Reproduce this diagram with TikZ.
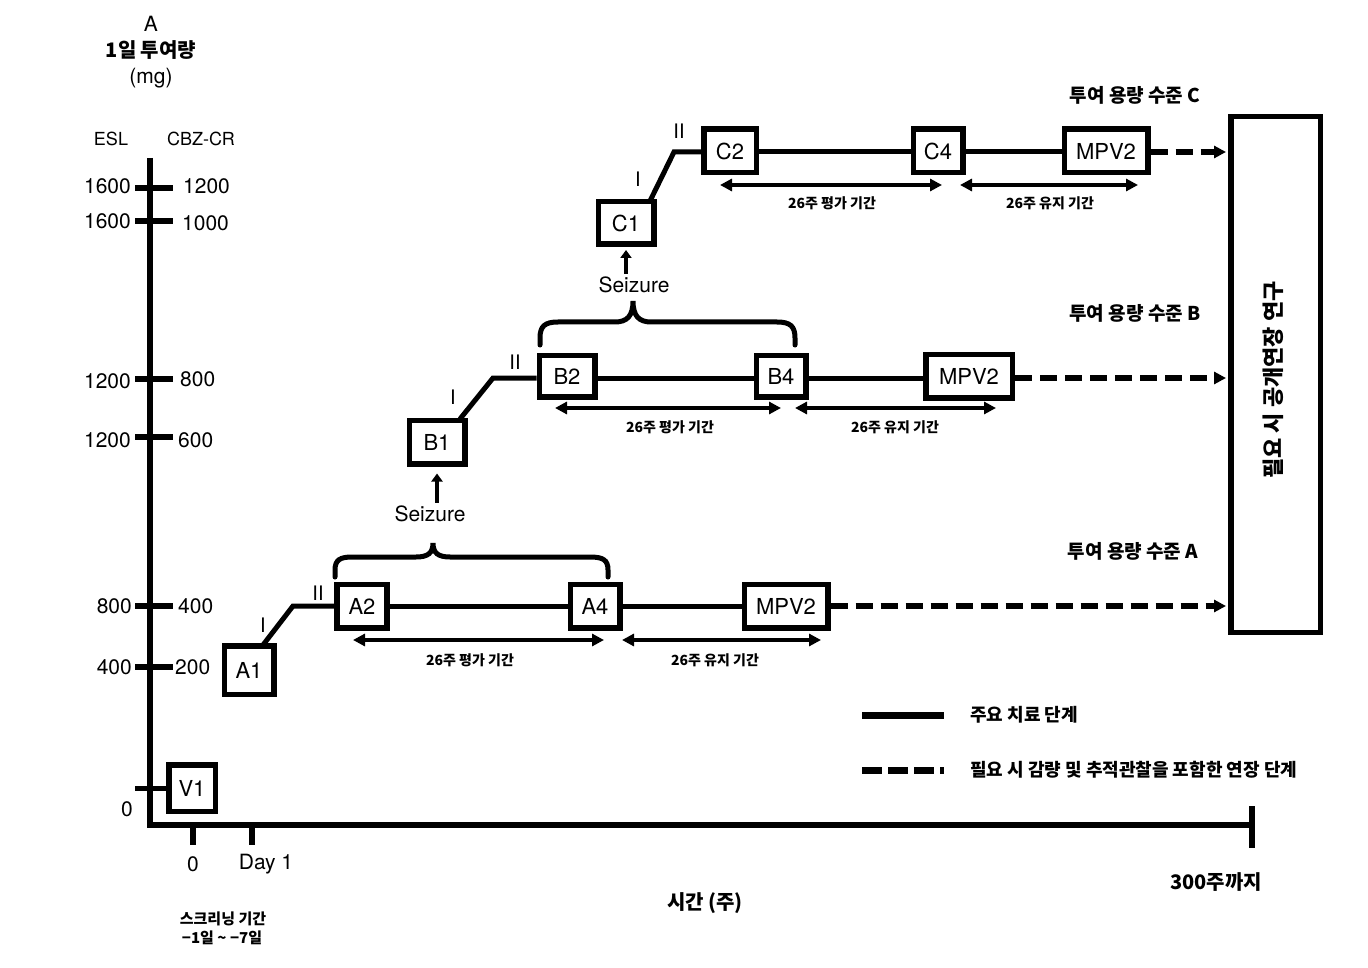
\documentclass[tikz,border=0pt]{standalone}
\usepackage{fontspec}
\setmainfont{TeX Gyre Heros}
\newfontfamily\kr{Noto Sans CJK KR}
\usetikzlibrary{arrows.meta}
\begin{document}
\begin{tikzpicture}[x=1pt,y=-1pt,line join=miter,
  box/.style={draw,line width=5.5pt,fill=white,inner sep=0pt,font=\fontsize{22}{26}\selectfont},
  sq/.style={box,minimum width=50pt,minimum height=43.5pt},
  mpv/.style={box,minimum width=85pt,minimum height=43.5pt},
  main/.style={line width=5pt},
  axis/.style={line width=6pt},
  ext/.style={line width=5.5pt,dash pattern=on 17pt off 8pt,-{Triangle[length=12pt,width=12pt]},shorten >=2pt},
  dur/.style={line width=3.5pt,{Triangle[length=12pt,width=12pt]}-{Triangle[length=12pt,width=12pt]}},
  up/.style={line width=3.5pt,-{Triangle[length=8pt,width=11pt]}},
  brace/.style={line width=5pt,line cap=round},
  lbl/.style={inner sep=0pt,font=\fontsize{21}{24}\selectfont},
  small/.style={inner sep=0pt,font=\kr\bfseries\fontsize{14}{16}\selectfont},
  klbl/.style={inner sep=0pt,font=\kr\bfseries\fontsize{19}{22}\selectfont},
  roman/.style={inner sep=0pt,font=\fontsize{20}{22}\selectfont}]
\useasboundingbox (0,0) rectangle (1368,968);

% ---------- axes ----------
\coordinate (ytop) at (150,158);
\coordinate (orig) at (150,825);
\coordinate (xend) at (1252,825);
\draw[axis] (ytop) -- (orig) -- (xend);
\draw[axis] (1252,806) -- (1252,848);
\draw[axis] (193,825) -- (193,845);
\draw[axis] (252,825) -- (252,845);
\foreach \yy in {188,221,379,437,606,667}{\draw[axis] (135,\yy) -- (173,\yy);}

% axis titles
\node[lbl] (tA) at (151,24) {A};
\node[klbl,font=\kr\bfseries\fontsize{20}{22}\selectfont] (tdose) at (151,50) {1일 투여량};
\node[lbl] (tmg) at (151,78) {(mg)};
\node[lbl,font=\fontsize{18}{20}\selectfont] (tesl) at (111,139) {ESL};
\node[lbl,font=\fontsize{18}{20}\selectfont] (tcbz) at (201,139) {CBZ-CR};

% left tick labels
\node[lbl,anchor=east] (l1) at (131,186) {1600};
\node[lbl,anchor=east] (l2) at (131,221) {1600};
\node[lbl,anchor=east] (l3) at (131,381) {1200};
\node[lbl,anchor=east] (l4) at (131,440) {1200};
\node[lbl,anchor=east] (l5) at (132,606) {800};
\node[lbl,anchor=east] (l6) at (132,667) {400};
\node[lbl] (l0) at (127,809) {0};
% right tick labels
\node[lbl,anchor=west] (r1) at (183,186) {1200};
\node[lbl,anchor=west] (r2) at (182,223) {1000};
\node[lbl,anchor=west] (r3) at (180,379) {800};
\node[lbl,anchor=west] (r4) at (178,440) {600};
\node[lbl,anchor=west] (r5) at (178,606) {400};
\node[lbl,anchor=west] (r6) at (175,667) {200};

% x-axis labels
\node[lbl] (x0) at (193,864) {0};
\node[lbl] (xd1) at (266,864) {Day 1};
\node[small,font=\kr\bfseries\fontsize{15}{17}\selectfont] (scr1) at (223,919) {스크리닝 기간};
\node[small,font=\kr\bfseries\fontsize{15}{17}\selectfont] (scr2) at (222,938) {−1일 \textasciitilde{} −7일};
\node[klbl,font=\kr\bfseries\fontsize{20}{22}\selectfont] (xt) at (705,903) {시간 (주)};
\node[klbl,font=\kr\bfseries\fontsize{20}{22}\selectfont] (x300) at (1216,882) {300주까지};

% ---------- boxes ----------
\node[sq,minimum width=46.5pt,minimum height=46.5pt] (V1) at (192,788) {V1};
\node[sq,minimum width=49.5pt,minimum height=48.5pt] (A1) at (249,670) {A1};
\node[sq] (A2) at (362,606) {A2};
\node[sq,minimum width=49.5pt] (A4) at (595,606) {A4};
\node[mpv,minimum width=83.5pt] (MA) at (786,606) {MPV2};

\node[sq,minimum width=55.5pt] (B1) at (437,442) {B1};
\node[sq,minimum width=55.5pt,minimum height=41.5pt] (B2) at (567,376) {B2};
\node[sq,minimum width=49.5pt,minimum height=41.5pt] (B4) at (781,376) {B4};
\node[mpv,minimum width=86.5pt] (MB) at (969,376) {MPV2};

\node[sq,minimum width=55.5pt,minimum height=42.5pt] (C1) at (626,223) {C1};
\node[sq,minimum width=52.5pt] (C2) at (730,151) {C2};
\node[sq,minimum width=49.5pt] (C4) at (938,151) {C4};
\node[mpv,minimum width=83.5pt] (MC) at (1106,151) {MPV2};

\node[box,minimum width=89.5pt,minimum height=515.5pt] (ole) at (1275.5,374.5) {};
\node[klbl,rotate=90,font=\kr\bfseries\fontsize{22}{24}\selectfont] (olet) at (1273,380) {필요 시 공개연장 연구};

% ---------- connectors ----------
\coordinate (v0) at (135,788);
\draw[main] (v0) -- (V1.west);

\coordinate (a1s) at (263,645);
\coordinate (ak) at (293,606);
\draw[main] (a1s) -- (ak) -- (A2.west);
\draw[main] (A2.east) -- (A4.west);
\draw[main] (A4.east) -- (MA.west);
\draw[ext] (MA.east) -- (MA.east -| ole.west);

\coordinate (b1s) at (460,419);
\coordinate (bk) at (493,378);
\draw[main] (b1s) -- (bk) -- (B2.west |- bk);
\draw[main] (B2.east |- bk) -- (B4.west |- bk);
\draw[main] (B4.east |- bk) -- (MB.west |- bk);
\draw[ext] (MB.east |- bk) -- (ole.west |- bk);

\coordinate (c1s) at (650,201);
\coordinate (ck) at (674,152);
\draw[main] (c1s) -- (ck) -- (C2.west |- ck);
\draw[main] (C2.east |- ck) -- (C4.west |- ck);
\draw[main] (C4.east |- ck) -- (MC.west |- ck);
\draw[ext] (MC.east |- ck) -- (ole.west |- ck);

% roman labels
\node[roman] (ia) at (263,625) {I};
\node[roman] (iia) at (318,593) {II};
\node[roman] (ib) at (453,397) {I};
\node[roman] (iib) at (515,362) {II};
\node[roman] (ic) at (638,179) {I};
\node[roman] (iic) at (679,131) {II};

% ---------- braces & seizure ----------
\draw[brace] (335,577) -- (335,570) .. controls (335,560) and (340,557) .. (352,557) -- (416,557) .. controls (428,557) and (433,553) .. (433,543) .. controls (433,553) and (438,557) .. (450,557) -- (590,557) .. controls (603,557) and (608,560) .. (608,570) -- (608,577);
\node[lbl] (szA) at (430,514) {Seizure};
\draw[up,shorten <=3pt,shorten >=7pt] (B1.south |- szA.north) -- (B1.south);

\draw[brace] (540,345) -- (540,338) .. controls (540,326) and (545,322) .. (558,322) -- (615,322) .. controls (627,322) and (633,316) .. (633,301) .. controls (633,316) and (639,322) .. (651,322) -- (777,322) .. controls (790,322) and (795,326) .. (795,338) -- (795,345);
\node[lbl] (szB) at (634,285) {Seizure};
\draw[up,shorten <=3pt,shorten >=3pt] (C1.south |- szB.north) -- (C1.south);

% ---------- duration arrows ----------
\coordinate (ea1) at (353,640); \coordinate (ea2) at (604,640);
\coordinate (ma1) at (622,640); \coordinate (ma2) at (821,640);
\draw[dur] (ea1) -- (ea2);
\draw[dur] (ma1) -- (ma2);
\node[small] (eal) at (470,660) {26주 평가 기간};
\node[small] (mal) at (715,660) {26주 유지 기간};

\coordinate (eb1) at (555,408); \coordinate (eb2) at (781,408);
\coordinate (mb1) at (795,408); \coordinate (mb2) at (996,408);
\draw[dur] (eb1) -- (eb2);
\draw[dur] (mb1) -- (mb2);
\node[small] (ebl) at (670,427) {26주 평가 기간};
\node[small] (mbl) at (895,427) {26주 유지 기간};

\coordinate (ec1) at (720,185); \coordinate (ec2) at (942,185);
\coordinate (mc1) at (960,185); \coordinate (mc2) at (1138,185);
\draw[dur] (ec1) -- (ec2);
\draw[dur] (mc1) -- (mc2);
\node[small] (ecl) at (832,203) {26주 평가 기간};
\node[small] (mcl) at (1050,203) {26주 유지 기간};

% ---------- level labels ----------
\node[klbl] (lvC) at (1135,95) {투여 용량 수준 C};
\node[klbl] (lvB) at (1135,313) {투여 용량 수준 B};
\node[klbl] (lvA) at (1133,551) {투여 용량 수준 A};

% ---------- legend ----------
\coordinate (lg1a) at (862,715); \coordinate (lg1b) at (944,715);
\coordinate (lg2a) at (862,770); \coordinate (lg2b) at (944,770);
\draw[line width=7pt] (lg1a) -- (lg1b);
\draw[line width=7pt,dash pattern=on 20pt off 6pt] (lg2a) -- (lg2b);
\node[klbl,font=\kr\bfseries\fontsize{18}{20}\selectfont,anchor=west] (lg1t) at (970,715) {주요 치료 단계};
\node[klbl,font=\kr\bfseries\fontsize{18}{20}\selectfont,anchor=west] (lg2t) at (970,770) {필요 시 감량 및 추적관찰을 포함한 연장 단계};
\end{tikzpicture}
\end{document}
